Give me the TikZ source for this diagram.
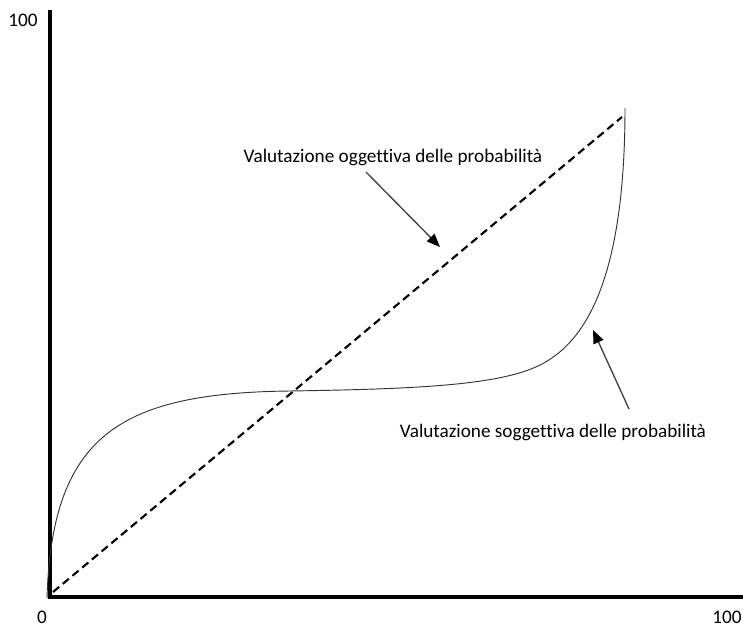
\documentclass[tikz,border=0pt]{standalone}
\usepackage{fontspec}
\setmainfont[Ligatures=NoCommon]{Carlito}
\usetikzlibrary{arrows.meta}

\tikzset{
    axis/.style={line width=2.3pt, black},
    pointer/.style={line width=1pt, black!75, -{Triangle[length=10pt,width=8pt,color=black,fill=black]}},
    lbl/.style={font=\fontsize{14.4pt}{16pt}\selectfont, inner sep=1pt},
}

\begin{document}
\begin{tikzpicture}[x=0.75pt, y=-0.75pt]
    \useasboundingbox (0,0) rectangle (743,628);

    % Draw axes
    \coordinate (origin) at (50,597);
    \coordinate (ytop) at (50,10);
    \coordinate (xend) at (743,597);
    \draw[axis] (ytop) -- (origin) -- (xend);

    \node[lbl] (ymax) at (23,20) {100};
    \node[lbl] (xzero) at (42,617) {0};
    \node[lbl] (xmax) at (727,617) {100};

    % objective line
    \coordinate (objstart) at (53,592);
    \coordinate (objend) at (622,117);
    \draw[line width=1.6pt, dash pattern=on 6pt off 3.5pt] (objstart) -- (objend);

    % subjective curve
    \coordinate (subjstart) at (47,598);
    \coordinate (subjmid) at (290,391);
    \coordinate (subjbend) at (540,365);
    \coordinate (subjend) at (625,108);
    \draw[line width=0.7pt, black!80] (subjstart)
        .. controls (52,435) and (120,393) .. (subjmid)
        .. controls (420,389) and (500,385) .. (subjbend)
        .. controls (580,345) and (625,290) .. (subjend);

    \node[lbl] (objtext) at (393,157) {Valutazione oggettiva delle probabilità};
    \node[lbl] (subjtext) at (553,432) {Valutazione soggettiva delle probabilità};

    \coordinate (objtail) at (366,172);
    \coordinate (objtip) at (440,247);
    \coordinate (subjtail) at (629,409);
    \coordinate (subjtip) at (593,330);
    \draw[pointer] (objtail) -- (objtip);
    \draw[pointer] (subjtail) -- (subjtip);

\end{tikzpicture}
\end{document}
